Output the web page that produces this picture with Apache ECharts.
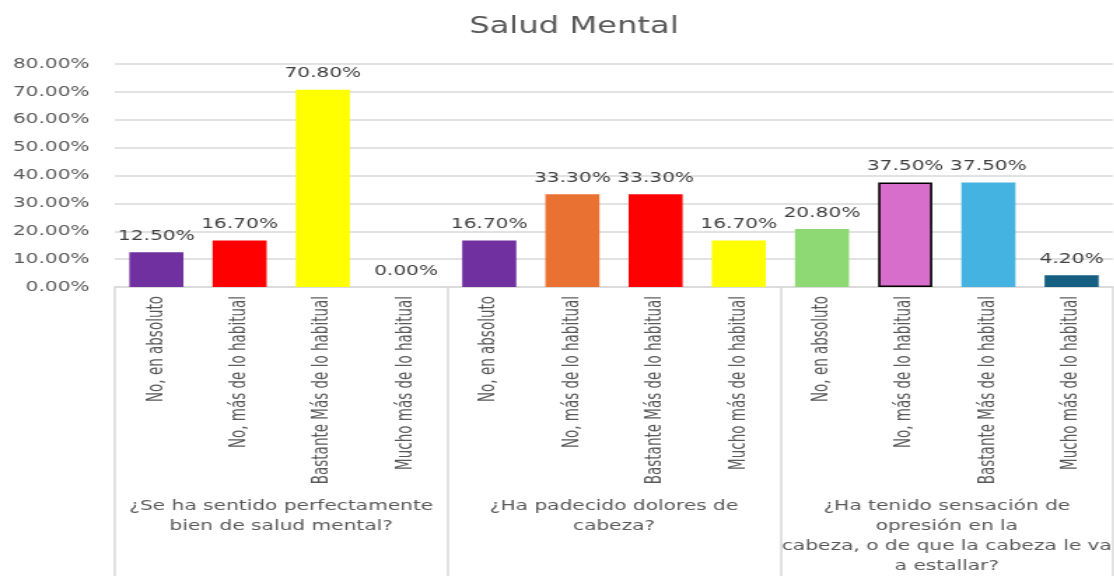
<!DOCTYPE html>
<html>
<head>
<meta charset="utf-8">
<script src="https://cdn.jsdelivr.net/npm/echarts@6/dist/echarts.min.js"></script>
<style>
  html, body { margin: 0; padding: 0; background: #fff; overflow: hidden; }
  /* la imagen original está estirada en horizontal: se dibuja más estrecha y se estira */
  #chart { width: 796px; height: 576px; transform: scaleX(1.4); transform-origin: 0 0; }
</style>
</head>
<body>
<div id="chart"></div>
<script>
// datos de la gráfica
var categorias = [
  'No, en absoluto', 'No, más de lo habitual', 'Bastante Más de lo habitual', 'Mucho más de lo habitual',
  'No, en absoluto', 'No, más de lo habitual', 'Bastante Más de lo habitual', 'Mucho más de lo habitual',
  'No, en absoluto', 'No, más de lo habitual', 'Bastante Más de lo habitual', 'Mucho más de lo habitual'
];
var preguntas = [
  '¿Se ha sentido perfectamente\nbien de salud mental?',
  '¿Ha padecido dolores de\ncabeza?',
  '¿Ha tenido sensación de\nopresión en la\ncabeza, o de que la cabeza le va\na estallar?'
];
var valores = [12.5, 16.7, 70.8, 0, 16.7, 33.3, 33.3, 16.7, 20.8, 37.5, 37.5, 4.2];
var colores = ['#7030a0', '#ff0000', '#ffff00', '#ffff00',
               '#7030a0', '#e97132', '#ff0000', '#ffff00',
               '#8ed973', '#d86ecc', '#44b3e1', '#156082'];
var bordes = [0, 0, 0, 0, 0, 0, 0, 0, 0, 1.6, 0, 0];
var ticksY = [0, 10, 20, 30, 40, 50, 60, 70, 80];

var chart = echarts.init(document.getElementById('chart'));

var datos = valores.map(function (v, i) {
  return {
    value: v,
    itemStyle: { color: colores[i], borderColor: '#000', borderWidth: bordes[i] }
  };
});

var option = {
  animation: false,
  title: {
    text: 'Salud Mental',
    left: 405,
    textAlign: 'center',
    top: 11,
    textStyle: { fontFamily: 'DejaVu Sans', fontSize: 23, fontWeight: 'normal', color: '#595959' }
  },
  grid: { left: 82, width: 720, top: 64, bottom: 288, containLabel: false },
  xAxis: [
    {
      type: 'category',
      data: categorias,
      axisLine: { show: true, lineStyle: { color: '#d9d9d9', width: 1.5 } },
      axisTick: { show: false },
      axisLabel: {
        interval: 0, rotate: 90, margin: 9,
        fontFamily: 'DejaVu Sans Condensed, sans-serif',
        fontSize: 15, color: '#595959'
      }
    },
    {
      type: 'category',
      data: preguntas,
      position: 'bottom',
      axisLine: { show: false },
      axisTick: { show: true, interval: 0, length: 292, lineStyle: { color: '#d9d9d9', width: 1.5 } },
      axisLabel: {
        interval: 0, margin: 209, lineHeight: 20,
        fontFamily: 'DejaVu Sans', fontSize: 14.4, color: '#595959'
      }
    }
  ],
  yAxis: {
    type: 'value',
    min: ticksY[0],
    max: ticksY[ticksY.length - 1],
    interval: 10,
    axisLine: { show: false },
    axisTick: { show: false },
    splitLine: { lineStyle: { color: '#d9d9d9', width: 1.5 } },
    axisLabel: {
      margin: 18,
      fontFamily: 'DejaVu Sans', fontSize: 14.4, color: '#595959',
      formatter: function (v) { return v.toFixed(2) + '%'; }
    }
  },
  series: [
    {
      type: 'bar',
      xAxisIndex: 0,
      barWidth: '65%',
      data: datos,
      label: {
        show: true, position: 'top', distance: 9,
        fontFamily: 'DejaVu Sans', fontSize: 14.4, color: '#404040',
        formatter: function (p) { return p.value.toFixed(2) + '%'; }
      }
    }
  ]
};

chart.setOption(option);
</script>
</body>
</html>
